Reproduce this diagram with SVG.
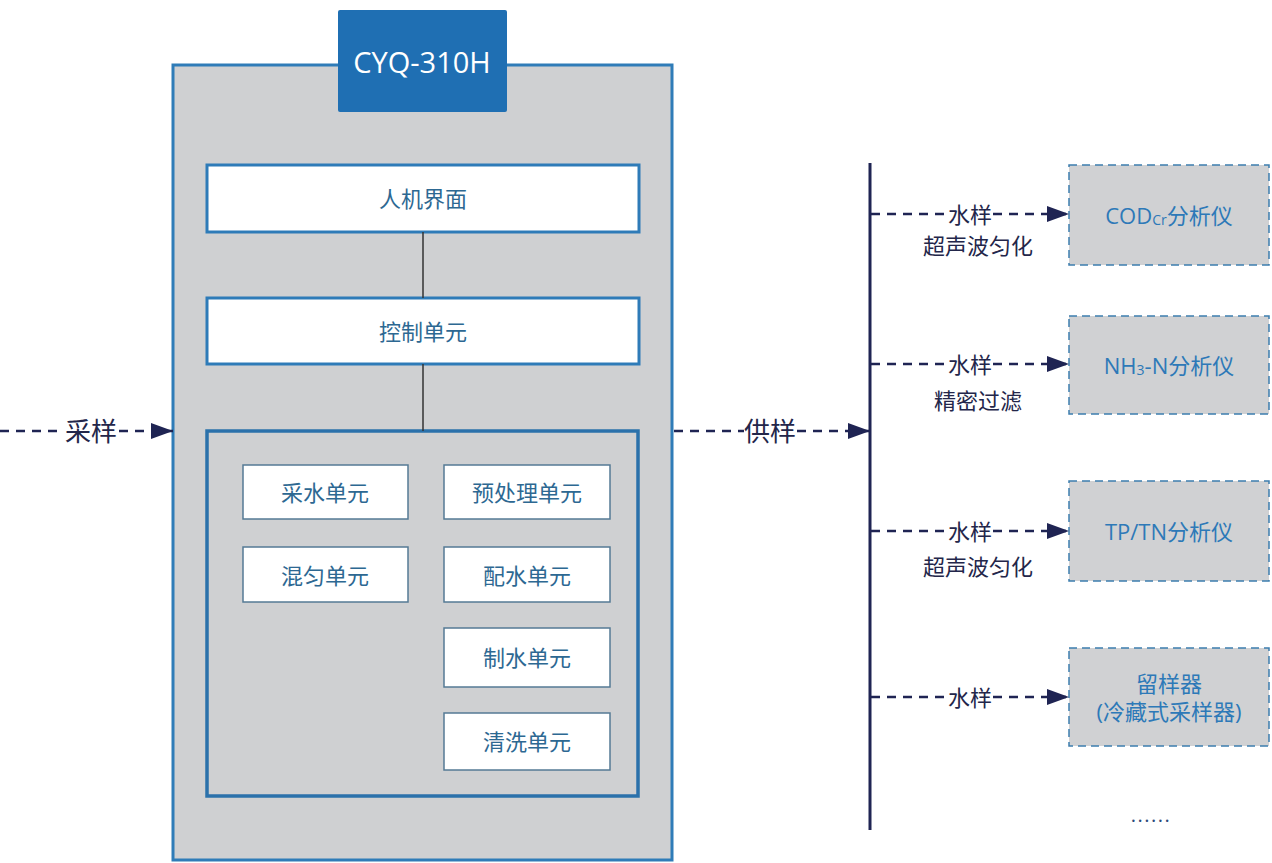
<svg xmlns="http://www.w3.org/2000/svg" width="1272" height="863" viewBox="0 0 1272 863">
<style>
  .cjk { font-family: "Open Sans", "Noto Sans CJK SC", sans-serif; }
  .outer { fill: #cfd0d2; stroke: #2f7cb8; stroke-width: 3; }
  .inner { fill: none; stroke: #2b71ab; stroke-width: 3.5; }
  .wide { fill: #ffffff; stroke: #2e7bb8; stroke-width: 3; }
  .unit { fill: #ffffff; stroke: #557a95; stroke-width: 1.5; }
  .dev { fill: #d0d1d3; stroke: #3d7eae; stroke-width: 1.5; stroke-dasharray: 8 5; }
  .utext { font-size: 22px; fill: #2d6892; text-anchor: middle; dominant-baseline: central; }
  .dtext { font-size: 22px; fill: #2d79b8; text-anchor: middle; dominant-baseline: central; }
  .ltext { font-size: 22px; fill: #23264a; text-anchor: middle; dominant-baseline: central; }
  .btext { font-size: 26px; fill: #23264a; text-anchor: middle; dominant-baseline: central; }
  .dash { stroke: #1f2453; stroke-width: 2.3; stroke-dasharray: 9 7; fill: none; }
  .solid { stroke: #333333; stroke-width: 1.5; fill: none; }
  .bus { stroke: #1f2453; stroke-width: 3; fill: none; }
</style>
<defs>
  <marker id="arr" markerUnits="userSpaceOnUse" markerWidth="24" markerHeight="18" refX="22" refY="8" orient="auto">
    <path d="M0,0 L22,8 L0,16 Z" fill="#1f2453"/>
  </marker>
</defs>

<g id="outer-box">
  <rect class="outer" x="173" y="65" width="499" height="795"/>
</g>
<g id="title">
  <rect x="338" y="10" width="169" height="102" rx="2" fill="#1f6fb3"/>
  <text x="422" y="61" class="cjk" font-size="29" fill="#ffffff" text-anchor="middle" dominant-baseline="central">CYQ-310H</text>
</g>
<g id="hmi">
  <rect class="wide" x="207" y="165" width="432" height="67"/>
  <text x="423" y="198" class="cjk utext">人机界面</text>
</g>
<g id="control">
  <rect class="wide" x="207" y="298" width="432" height="66"/>
  <text x="423" y="331" class="cjk utext">控制单元</text>
</g>
<g id="units">
  <rect class="inner" x="207" y="431" width="431" height="365"/>
</g>
<g id="u-caishui">
  <rect class="unit" x="243" y="465" width="165" height="54"/>
  <text x="325" y="492" class="cjk utext">采水单元</text>
</g>
<g id="u-yuchuli">
  <rect class="unit" x="444" y="465" width="166" height="54"/>
  <text x="527" y="492" class="cjk utext">预处理单元</text>
</g>
<g id="u-hunyun">
  <rect class="unit" x="243" y="547" width="165" height="55"/>
  <text x="325" y="575" class="cjk utext">混匀单元</text>
</g>
<g id="u-peishui">
  <rect class="unit" x="444" y="547" width="166" height="55"/>
  <text x="527" y="575" class="cjk utext">配水单元</text>
</g>
<g id="u-zhishui">
  <rect class="unit" x="444" y="628" width="166" height="59"/>
  <text x="527" y="657" class="cjk utext">制水单元</text>
</g>
<g id="u-qingxi">
  <rect class="unit" x="444" y="713" width="166" height="57"/>
  <text x="527" y="741" class="cjk utext">清洗单元</text>
</g>

<g id="dev-cod">
  <rect class="dev" x="1069" y="165" width="200" height="100"/>
  <text x="1169" y="215" class="cjk dtext">COD<tspan font-size="14" dy="4">Cr</tspan><tspan dy="-4">分析仪</tspan></text>
</g>
<g id="dev-nh3">
  <rect class="dev" x="1069" y="316" width="200" height="98"/>
  <text x="1169" y="365" class="cjk dtext">NH<tspan font-size="14" dy="4">3</tspan><tspan dy="-4">-N分析仪</tspan></text>
</g>
<g id="dev-tptn">
  <rect class="dev" x="1069" y="481" width="200" height="100"/>
  <text x="1169" y="531" class="cjk dtext">TP/TN分析仪</text>
</g>
<g id="dev-sampler">
  <rect class="dev" x="1069" y="648" width="200" height="98"/>
  <text x="1169" y="683" class="cjk dtext">留样器</text>
  <text x="1169" y="711" class="cjk dtext">(冷藏式采样器)</text>
</g>
<g id="more">
  <text x="1151" y="822" class="cjk" font-size="20" fill="#2b4a7a" text-anchor="middle" letter-spacing="1.5">......</text>
</g>

<g id="connectors">
  <line class="solid" x1="423" y1="232" x2="423" y2="298"/>
  <line class="solid" x1="423" y1="364" x2="423" y2="431"/>

  <line class="dash" x1="0" y1="431" x2="64" y2="431"/>
  <line class="dash" x1="119" y1="431" x2="173" y2="431" marker-end="url(#arr)"/>
  <text x="91" y="431" class="cjk btext">采样</text>

  <line class="dash" x1="674" y1="431" x2="744" y2="431"/>
  <line class="dash" x1="797" y1="431" x2="870" y2="431" marker-end="url(#arr)"/>
  <text x="770" y="431" class="cjk btext">供样</text>

  <line class="bus" x1="870" y1="163" x2="870" y2="830"/>

  <line class="dash" x1="871" y1="214" x2="948" y2="214"/>
  <line class="dash" x1="993" y1="214" x2="1069" y2="214" marker-end="url(#arr)"/>
  <text x="970" y="214" class="cjk ltext">水样</text>
  <text x="978" y="245" class="cjk ltext">超声波匀化</text>

  <line class="dash" x1="871" y1="364" x2="948" y2="364"/>
  <line class="dash" x1="993" y1="364" x2="1069" y2="364" marker-end="url(#arr)"/>
  <text x="970" y="364" class="cjk ltext">水样</text>
  <text x="978" y="400" class="cjk ltext">精密过滤</text>

  <line class="dash" x1="871" y1="531" x2="948" y2="531"/>
  <line class="dash" x1="993" y1="531" x2="1069" y2="531" marker-end="url(#arr)"/>
  <text x="970" y="531" class="cjk ltext">水样</text>
  <text x="978" y="566" class="cjk ltext">超声波匀化</text>

  <line class="dash" x1="871" y1="697" x2="948" y2="697"/>
  <line class="dash" x1="993" y1="697" x2="1069" y2="697" marker-end="url(#arr)"/>
  <text x="970" y="697" class="cjk ltext">水样</text>
</g>
</svg>
